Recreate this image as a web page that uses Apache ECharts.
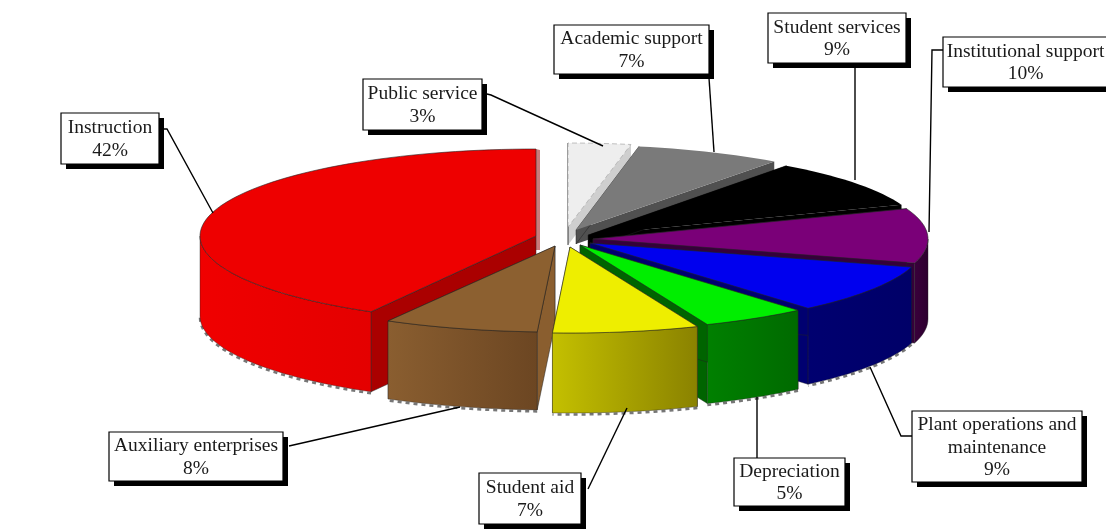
<!DOCTYPE html>
<html>
<head>
<meta charset="utf-8">
<style>html,body{margin:0;padding:0;background:#fff}#c{width:1106px;height:529px}</style>
<script src="https://cdn.jsdelivr.net/npm/echarts@6/dist/echarts.min.js"></script>
</head>
<body>
<div id="c"></div>
<script>
// ---------- data (clockwise from 12 o'clock) ----------
var categories = ['Public service','Academic support','Student services','Institutional support',
  'Plant operations and maintenance','Depreciation','Student aid','Auxiliary enterprises','Instruction'];
var percentValues = [3,7,9,10,9,5,7,8,42];

// ---------- colours ----------
var topColors  = ['#eeeeee','#7a7a7a','#000000','#7a0078','#0000ee','#00ee00','#eeee00','#8c6030','#ee0000'];
var cutColors  = ['#cfcfcf','#505050','#000000','#35003a','#000070','#006400','#8c8400','#8a5e2f','#aa0000'];
var sideFrom   = ['#cccccc','#555555','#000000','#3a003c','#000070','#008000','#c4c000','#8a5e30','#f00000'];
var sideTo     = ['#cccccc','#555555','#000000','#2c002e','#000068','#006a00','#8a8200','#6c4622','#e40000'];

// ---------- layout ----------
var sliceTipX  = [568,576,588,593,590,580,570,555,536];
var sliceTipY  = [227,230,235,239,243,245,247,246,236];
var sliceRx    = [335,335,335,335,335,335,335,340,336];
var sliceRy    = [84,85,86,86,86,86,86,86,87];
var sliceDepth = [18,14,14,80,76,79,80,78,80];
var drawOrder  = [0,1,2,8,3,4,5,7,6];
var boxes = [
  {i:0,x:363,y:79,w:119,h:51,line:[[487,94],[491,95],[603,146]]},
  {i:1,x:554,y:25,w:155,h:49,line:[[709,78],[714,152]]},
  {i:2,x:768,y:13,w:138,h:50,line:[[855,68],[855,180]]},
  {i:3,x:943,y:37,w:175,h:50,line:[[943,50],[932,50],[929,232]]},
  {i:4,x:912,y:411,w:170,h:71,line:[[870,367],[901,436],[912,436]],wrap:['Plant operations and','maintenance']},
  {i:5,x:734,y:458,w:111,h:48,line:[[757,397],[757,458]]},
  {i:6,x:479,y:473,w:102,h:51,line:[[627,408],[588,489]]},
  {i:7,x:109,y:432,w:174,h:49,line:[[460,407],[289,446]]},
  {i:8,x:61,y:113,w:98,h:51,line:[[163,129],[167,129],[213,213]]}
];
var FONT = 'Liberation Serif';

// ---------- geometry derived from the values ----------
var total = percentValues.reduce(function(a,b){return a+b;},0);
var cum = [0];
percentValues.forEach(function(v,i){cum.push(cum[i]+v/total*360);});
function warp(t){ // slight perspective of the original 3D pie
  if(t<=180){var s=Math.sin(t*Math.PI/360);return t+3*s*s;}
  return t+3*Math.max(0,1-(t-180)/36);
}
function pt(i,tDeg,dy){
  var a=tDeg*Math.PI/180;
  return [sliceTipX[i]+sliceRx[i]*Math.sin(a), sliceTipY[i]-sliceRy[i]*Math.cos(a)+(dy||0)];
}
function arcBetween(i,s,e,dy){
  var n=Math.max(4,Math.ceil((e-s)/2)),out=[];
  for(var k=0;k<=n;k++){out.push(pt(i,s+(e-s)*k/n,dy));}
  return out;
}
function poly(points,fill,stroke,lw,dash){
  return {type:'polygon',shape:{points:points},style:{fill:fill,stroke:stroke||null,lineWidth:lw||0,lineDash:dash||null}};
}
function renderSlice(params){
  var i=drawOrder[params.dataIndex],d=sliceDepth[i],tip=[sliceTipX[i],sliceTipY[i]];
  var s=warp(cum[i]),e=warp(cum[i+1]);
  var top=arcBetween(i,s,e,0),kids=[];
  var first=top[0],last=top[top.length-1],tipB=[tip[0],tip[1]+d];
  var edge=(i===0)?'#999999':(i===1||i===2?null:'#222222');
  var dash=(i===0)?[5,3]:null;
  // cut faces
  if(i===8){
    kids.push(poly([tip,last,[540,150],[540,250],[535,250]],'#c97a7a'));
  }else{
    kids.push(poly([tip,last,[last[0],last[1]+d],tipB],cutColors[i],'#222222',i<=2?0:0.4));
  }
  kids.push(poly([tip,first,[first[0],first[1]+d],tipB],cutColors[i],'#222222',0.5));
  // front part of the outer wall, and the rim shadow below it
  var fs=Math.max(s,90),fe=Math.min(e,270);
  if(fe>fs){
    var upper=arcBetween(i,fs,fe,0),lower=arcBetween(i,fs,fe,d);
    if(i!==3){
      kids.push({type:'polyline',shape:{points:lower.map(function(p){return [p[0],p[1]+1.5];})},
        style:{fill:null,stroke:'#777777',lineWidth:2.5,lineDash:[4,4]}});
    }
    var grad=new echarts.graphic.LinearGradient(0,0,1,0,[{offset:0,color:sideFrom[i]},{offset:1,color:sideTo[i]}]);
    kids.push(poly(upper.concat(lower.slice().reverse()),grad,'#222222',0.4));
  }
  // top face
  kids.push(poly([tip].concat(top),topColors[i],edge,edge?0.6:0,dash));
  return {type:'group',children:kids};
}

// ---------- labels and leaders ----------
var graphics=[];
boxes.forEach(function(b){
  graphics.push({type:'polyline',z:5,shape:{points:b.line},style:{fill:null,stroke:'#000',lineWidth:1.4}});
  graphics.push({type:'rect',z:6,shape:{x:b.x+5,y:b.y+5,width:b.w,height:b.h},style:{fill:'#000'}});
  graphics.push({type:'rect',z:7,shape:{x:b.x,y:b.y,width:b.w,height:b.h},style:{fill:'#fff',stroke:'#000',lineWidth:1.2}});
  var lines=(b.wrap||[categories[b.i]]).concat([percentValues[b.i]+'%']);
  graphics.push({type:'text',z:8,x:b.x+b.w/2-(b.i===3?5:0),y:b.y+b.h/2+1,
    style:{text:lines.join('\n'),font:'19.5px "'+FONT+'"',lineHeight:22.5,fill:'#1a1a1a',align:'center',verticalAlign:'middle'}});
});

var chart=echarts.init(document.getElementById('c'),null,{renderer:'canvas'});
chart.setOption({
  animation:false,
  backgroundColor:'#ffffff',
  series:[{type:'custom',coordinateSystem:'none',silent:true,clip:false,
    data:drawOrder.map(function(i){return percentValues[i];}),
    renderItem:renderSlice}],
  graphic:graphics
});
</script>
</body>
</html>
